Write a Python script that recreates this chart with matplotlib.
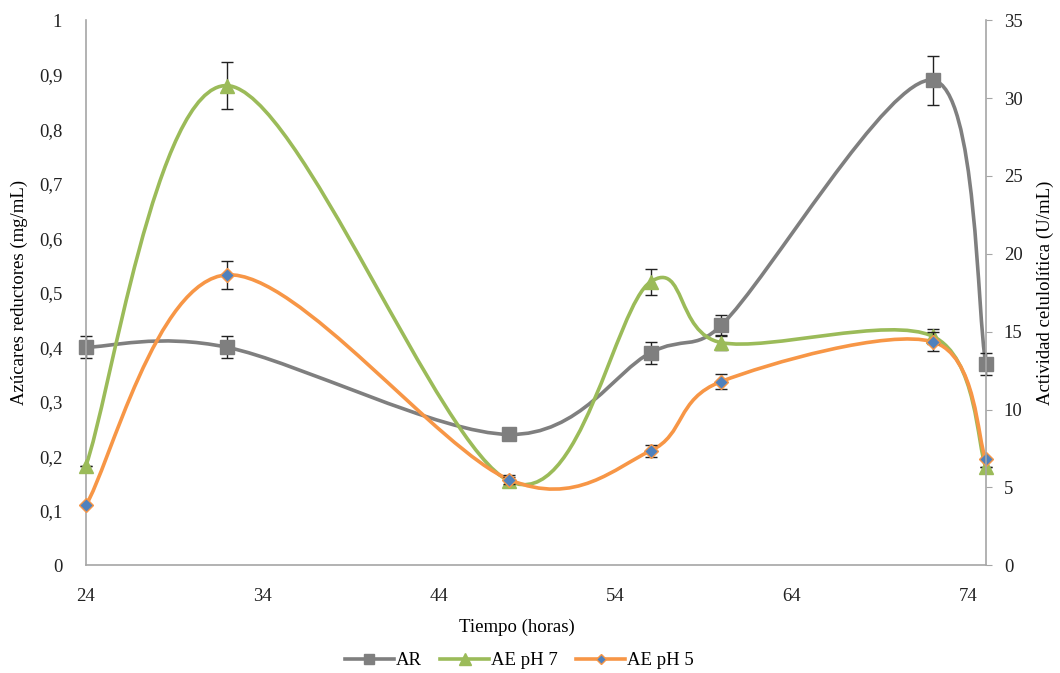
import matplotlib
matplotlib.use('Agg')
import matplotlib.pyplot as plt
from matplotlib.path import Path
from matplotlib.patches import PathPatch
from matplotlib.lines import Line2D
from matplotlib.ticker import FuncFormatter

plt.rcParams['font.family'] = ['Liberation Serif', 'DejaVu Serif']

# datos
horas = [24, 32, 48, 56, 60, 72, 75]
ar = [0.40, 0.40, 0.24, 0.39, 0.44, 0.89, 0.37]
ar_err = [0.02, 0.02, 0.01, 0.02, 0.02, 0.045, 0.02]
ae_ph7 = [6.4, 30.8, 5.4, 18.2, 14.3, 14.7, 6.3]
ae_ph7_err = [0.0, 1.5, 0.3, 0.85, 0.5, 0.5, 0.0]
ae_ph5 = [3.85, 18.65, 5.5, 7.35, 11.8, 14.35, 6.8]
ae_ph5_err = [0.0, 0.9, 0.3, 0.4, 0.5, 0.6, 0.0]

GRIS = '#7f7f7f'
VERDE = '#9bbb59'
NARANJA = '#f79646'
AZUL = '#4f81bd'


# curva suavizada tipo Excel: bezier cubica (tension 1/6), el brazo de cada
# punto de control se limita a media cuerda (medido en pixeles)
def curva(ax, xs, ys, color, sx, sy):
    n = len(xs)

    def brazo(dx, dy, cuerda):
        largo = ((dx * sx) ** 2 + (dy * sy) ** 2) ** 0.5
        k = 1.0
        if largo > 0.5 * cuerda:
            k = 0.5 * cuerda / largo
        return dx * k, dy * k

    verts = [(xs[0], ys[0])]
    codes = [Path.MOVETO]
    for i in range(n - 1):
        a = max(i - 1, 0)
        b = i + 1
        c = min(i + 2, n - 1)
        cuerda = (((xs[b] - xs[i]) * sx) ** 2 + ((ys[b] - ys[i]) * sy) ** 2) ** 0.5
        d1 = brazo((xs[b] - xs[a]) / 6, (ys[b] - ys[a]) / 6, cuerda)
        d2 = brazo((xs[c] - xs[i]) / 6, (ys[c] - ys[i]) / 6, cuerda)
        c1 = (xs[i] + d1[0], ys[i] + d1[1])
        c2 = (xs[b] - d2[0], ys[b] - d2[1])
        verts += [c1, c2, (xs[b], ys[b])]
        codes += [Path.CURVE4] * 3
    ax.add_patch(PathPatch(Path(verts, codes), fill=False, edgecolor=color,
                           lw=2.6, capstyle='round', joinstyle='round', clip_on=False))


fig = plt.figure(figsize=(10.6, 6.73), dpi=100)
ax = fig.add_axes([0.081, 0.160, 0.849, 0.810])
ax2 = ax.twinx()

ax.set_xlim(24, 75)
ax.set_ylim(0, 1)
ax2.set_ylim(0, 35)

sx = 900 / 51
curva(ax, horas, ar, GRIS, sx, 545)
ax.errorbar(horas, ar, yerr=ar_err, fmt='none', ecolor='#222222', elinewidth=1,
            capsize=4, capthick=1, clip_on=False)
ax.plot(horas, ar, ls='none', marker='s', ms=9.5, color=GRIS, clip_on=False)

curva(ax2, horas, ae_ph7, VERDE, sx, 545 / 35)
ax2.errorbar(horas, ae_ph7, yerr=ae_ph7_err, fmt='none', ecolor='#222222', elinewidth=1,
             capsize=4, capthick=1, clip_on=False)
ax2.plot(horas, ae_ph7, ls='none', marker='^', ms=10.5, color=VERDE, clip_on=False)

curva(ax2, horas, ae_ph5, NARANJA, sx, 545 / 35)
ax2.errorbar(horas, ae_ph5, yerr=ae_ph5_err, fmt='none', ecolor='#222222', elinewidth=1,
             capsize=4, capthick=1, clip_on=False)
ax2.plot(horas, ae_ph5, ls='none', marker='D', ms=7, mfc=AZUL, mec=NARANJA, mew=1, clip_on=False)

ax.set_xticks([24, 34, 44, 54, 64, 74])
ax.set_yticks([i / 10 for i in range(11)])
ax2.set_yticks(range(0, 36, 5))
ax.yaxis.set_major_formatter(FuncFormatter(lambda v, p: ('%g' % round(v, 1)).replace('.', ',')))

for a in (ax, ax2):
    a.spines['top'].set_visible(False)
    for s in ('left', 'bottom', 'right'):
        a.spines[s].set_color('#a6a6a6')
        a.spines[s].set_linewidth(1.2)
    a.tick_params(labelsize=13.5, colors='#222222')
ax.tick_params(axis='y', length=0, pad=17)
ax.tick_params(axis='x', length=0, pad=16)
ax.spines['right'].set_visible(False)
ax2.spines['left'].set_visible(False)
ax2.spines['bottom'].set_visible(False)
ax2.tick_params(axis='y', length=4, color='#a6a6a6', pad=9)

ax.set_xlabel('Tiempo (horas)', fontsize=13.5)
ax.xaxis.set_label_coords(0.479, -0.097)
ax.set_ylabel('Azúcares reductores (mg/mL)', fontsize=13.5, labelpad=8)
ax2.set_ylabel('Actividad celulolítica (U/mL)', fontsize=13.5, labelpad=10)

handles = [
    Line2D([], [], color=GRIS, lw=2.6, marker='s', ms=7),
    Line2D([], [], color=VERDE, lw=2.6, marker='^', ms=8),
    Line2D([], [], color=NARANJA, lw=2.6, marker='D', ms=5.5, mfc=AZUL, mec=NARANJA),
]
fig.legend(handles, ['AR', 'AE pH 7', 'AE pH 5'], loc='center', bbox_to_anchor=(0.49, 0.018),
           ncol=3, frameon=False, fontsize=13.5, handlelength=2.6, columnspacing=1.0,
           handletextpad=0.1)

fig.savefig('out.png', dpi=100)
